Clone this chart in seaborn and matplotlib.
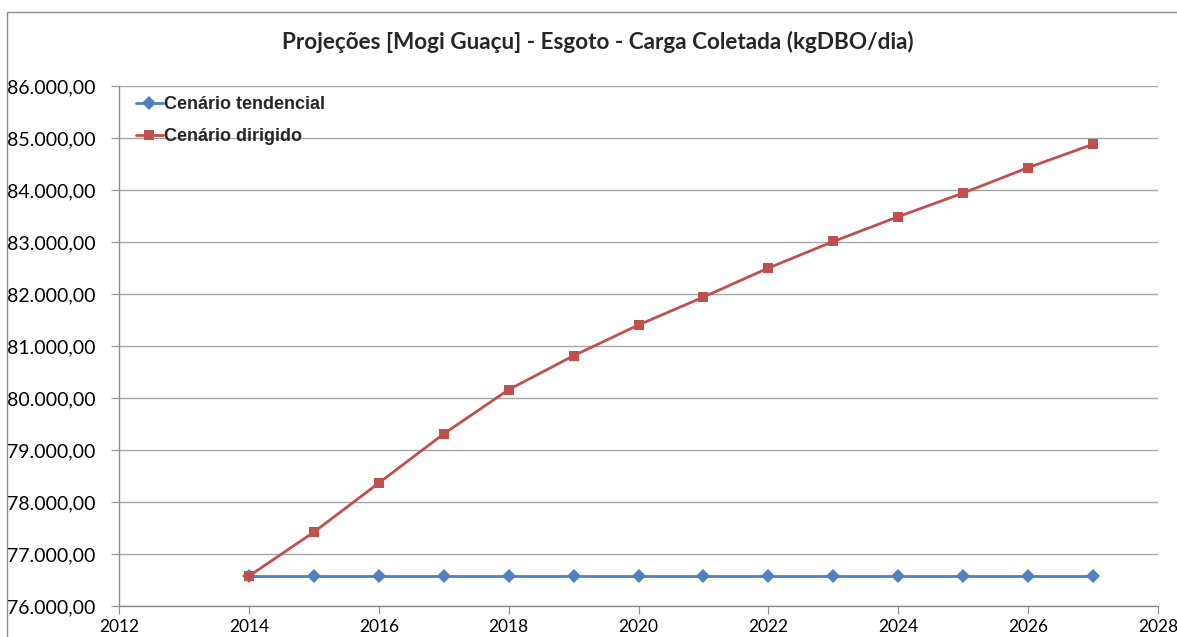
import matplotlib
matplotlib.use("Agg")
import matplotlib.pyplot as plt
import matplotlib.ticker as mticker
from matplotlib.patches import Rectangle
import seaborn as sns
import pandas as pd

# data
anos = [2014, 2015, 2016, 2017, 2018, 2019, 2020, 2021, 2022, 2023, 2024, 2025, 2026, 2027]
tendencial = [76570] * 14
dirigido = [76575, 77420, 78365, 79310, 80160, 80813, 81404, 81942, 82500, 83010,
            83487, 83942, 84430, 84880]
series_names = ["Cenário tendencial", "Cenário dirigido"]
titulo = "Projeções [Mogi Guaçu] - Esgoto - Carga Coletada (kgDBO/dia)"

df = pd.DataFrame({
    "ano": anos * 2,
    "valor": tendencial + dirigido,
    "serie": [series_names[0]] * len(anos) + [series_names[1]] * len(anos),
})

sns.set_style("white")
fig = plt.figure(figsize=(11.77, 6.37), dpi=100)
ax = fig.add_axes([119 / 1177, 1 - 606 / 637, (1158 - 119) / 1177, (606 - 86) / 637])

sns.lineplot(data=df, x="ano", y="valor", hue="serie", style="serie",
             palette=["#4F81BD", "#C0504D"], markers=["D", "s"], dashes=False,
             markersize=7, markeredgewidth=0, linewidth=2, ax=ax)

ax.set_xlim(2012, 2028)
ax.set_ylim(76000, 86000)
ax.set_xticks(range(2012, 2029, 2))
ax.set_yticks(range(76000, 86001, 1000))
ax.yaxis.set_major_formatter(mticker.FuncFormatter(
    lambda v, p: f"{v:,.2f}".replace(",", "X").replace(".", ",").replace("X", ".")))
ax.set_xlabel("")
ax.set_ylabel("")

ax.grid(axis="y", color="#a6a6a6", linewidth=1)
ax.grid(axis="x", visible=False)
for s in ["top", "right"]:
    ax.spines[s].set_visible(False)
for s in ["left", "bottom"]:
    ax.spines[s].set_color("#8c8c8c")
    ax.spines[s].set_linewidth(1)
ax.tick_params(axis="both", direction="out", length=6, color="#8c8c8c")
ax.tick_params(axis="y", left=True, labelsize=14, pad=11)
ax.tick_params(axis="x", bottom=True, labelsize=12.5, pad=3)
for lab in ax.get_xticklabels() + ax.get_yticklabels():
    lab.set_fontfamily("Lato")
    lab.set_color("#000000")

leg = ax.legend(loc="upper left", frameon=False,
                prop={"family": "Liberation Sans", "weight": "bold", "size": 13},
                handlelength=1.5, handletextpad=0.1, borderaxespad=0,
                labelspacing=0.85, bbox_to_anchor=(0.009, 0.995))

fig.text(598 / 1177, 1 - 42 / 637, titulo, ha="center", va="center",
         fontsize=16.2, fontweight="bold", family="Lato")

fig.patches.append(Rectangle((7 / 1177, -0.05), 1.1, 1 - 12 / 637 + 0.05,
                             transform=fig.transFigure, fill=False,
                             edgecolor="#8c8c8c", linewidth=1))

fig.savefig("out.png", dpi=100)
